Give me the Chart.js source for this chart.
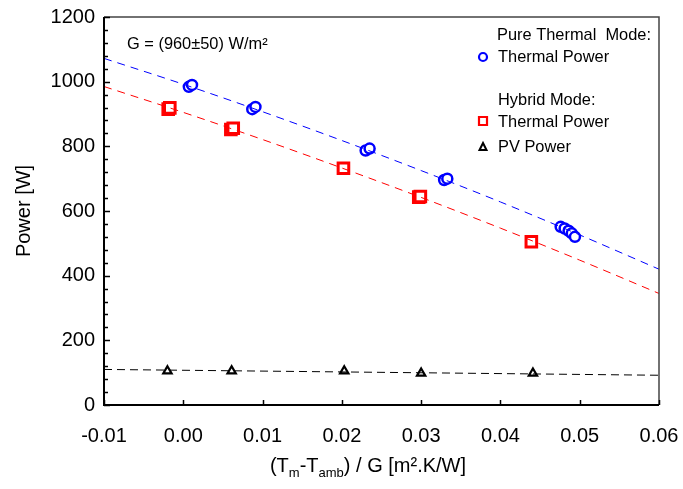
<!DOCTYPE html>
<html>
<head>
<meta charset="utf-8">
<script src="https://cdn.jsdelivr.net/npm/chart.js@4.4.1/dist/chart.umd.min.js"></script>
<style>
html,body{margin:0;padding:0;background:#fff;}
#wrap{width:683px;height:489px;position:relative;}
</style>
</head>
<body>
<div id="wrap"><canvas id="c" width="683" height="489"></canvas></div>
<script>
// ---- data ----
const pureThermalX = [0.0007, 0.0011, 0.0087, 0.0091, 0.0230, 0.0235, 0.0329, 0.0333, 0.0476, 0.0481, 0.0486, 0.0490, 0.0494];
const pureThermalY = [984, 990, 915, 922, 787, 793, 696, 700, 551, 546, 539, 531, 520];
const hybridThermalX = [-0.0019, -0.0017, 0.0060, 0.0063, 0.0202, 0.0297, 0.0299, 0.0439];
const hybridThermalY = [915, 919, 852, 856, 732, 643, 645, 505];
const pvX = [-0.0020, 0.0061, 0.0203, 0.0300, 0.0441];
const pvY = [105, 105, 105, 98, 98];
const fitX = [-0.01, 0.00, 0.01, 0.02, 0.03, 0.04, 0.05, 0.06];
const pureFitY = [1072, 992, 907, 818, 725, 628, 526, 420];
const hybridFitY = [985, 905, 821, 733, 642, 547, 448, 345];
const pvFitX = [-0.01, 0.06];
const pvFitY = [110, 92];
const xTicks = [-0.01, 0.00, 0.01, 0.02, 0.03, 0.04, 0.05, 0.06];
const yTicks = [0, 200, 400, 600, 800, 1000, 1200];

const FONT = "'Liberation Sans', Arial, sans-serif";
const pts = (xs, ys) => xs.map((x, i) => ({x: x, y: ys[i]}));

const frameAndTicks = {
  id: 'frameAndTicks',
  afterDatasetsDraw(chart) {
    const ctx = chart.ctx, a = chart.chartArea;
    const xs = chart.scales.x, ys = chart.scales.y;
    ctx.save();
    ctx.strokeStyle = '#444';
    ctx.lineWidth = 1.5;
    ctx.beginPath();
    ctx.moveTo(a.left, a.top); ctx.lineTo(a.right, a.top); ctx.lineTo(a.right, a.bottom);
    ctx.stroke();
    ctx.strokeStyle = '#000';
    ctx.lineWidth = 2;
    ctx.beginPath();
    ctx.moveTo(a.left, a.top); ctx.lineTo(a.left, a.bottom); ctx.lineTo(a.right, a.bottom);
    ctx.stroke();
    ctx.lineWidth = 1.5;
    ctx.beginPath();
    for (let v = 0; v <= 1200; v += 40) {
      const py = Math.round(ys.getPixelForValue(v)) + 0.5;
      const len = (v % 200 === 0) ? 6 : 4;
      ctx.moveTo(a.left, py); ctx.lineTo(a.left + len, py);
    }
    ctx.stroke();
    ctx.beginPath();
    xTicks.forEach(v => {
      const px = Math.round(xs.getPixelForValue(v)) + 0.5;
      ctx.moveTo(px, a.bottom); ctx.lineTo(px, a.bottom - 5);
    });
    ctx.stroke();
    ctx.restore();
  }
};

const annotations = {
  id: 'annotations',
  afterDraw(chart) {
    const ctx = chart.ctx;
    ctx.save();
    ctx.fillStyle = '#000';
    ctx.textBaseline = 'middle';
    ctx.textAlign = 'left';
    ctx.font = '16.4px ' + FONT;
    ctx.fillText('G = (960\u00B150) W/m\u00B2', 127, 44);
    ctx.fillText('Pure Thermal  Mode:', 497, 35);
    ctx.fillText('Thermal Power', 498, 57);
    ctx.fillText('Hybrid Mode:', 498, 100);
    ctx.fillText('Thermal Power', 498, 122);
    ctx.fillText('PV Power', 498, 147);
    ctx.lineWidth = 2.2;
    ctx.strokeStyle = '#0000FF';
    ctx.fillStyle = '#fff';
    ctx.beginPath(); ctx.arc(483, 57, 4, 0, Math.PI * 2); ctx.fill(); ctx.stroke();
    ctx.strokeStyle = '#FF0000';
    ctx.beginPath(); ctx.rect(479, 117, 8, 8); ctx.fill(); ctx.stroke();
    ctx.strokeStyle = '#000';
    ctx.lineWidth = 2;
    ctx.beginPath(); ctx.moveTo(483, 143); ctx.lineTo(486.5, 150); ctx.lineTo(479.5, 150); ctx.closePath(); ctx.fill(); ctx.stroke();
    const big = '20px ' + FONT, small = '13px ' + FONT;
    const parts = [['(T', big, 0], ['m', small, 5], ['-T', big, 0], ['amb', small, 5], [') / G [m\u00B2.K/W]', big, 0]];
    let total = 0;
    parts.forEach(p => { ctx.font = p[1]; total += ctx.measureText(p[0]).width; });
    let x = 368 - total / 2;
    const base = 472;
    ctx.fillStyle = '#000';
    ctx.textBaseline = 'alphabetic';
    parts.forEach(p => { ctx.font = p[1]; ctx.fillText(p[0], x, base + p[2]); x += ctx.measureText(p[0]).width; });
    ctx.restore();
  }
};

new Chart(document.getElementById('c'), {
  type: 'scatter',
  data: {
    datasets: [
      { label: 'Pure fit', data: pts(fitX, pureFitY), showLine: true, borderColor: '#0000FF', borderWidth: 1, borderDash: [8, 6], pointRadius: 0, tension: 0.4, cubicInterpolationMode: 'monotone', fill: false },
      { label: 'Hybrid fit', data: pts(fitX, hybridFitY), showLine: true, borderColor: '#FF0000', borderWidth: 1, borderDash: [8, 6], pointRadius: 0, tension: 0.4, cubicInterpolationMode: 'monotone', fill: false },
      { label: 'PV fit', data: pts(pvFitX, pvFitY), showLine: true, borderColor: '#000', borderWidth: 1, borderDash: [8, 5], pointRadius: 0, fill: false },
      { label: 'Pure Thermal Mode: Thermal Power', data: pts(pureThermalX, pureThermalY), pointStyle: 'circle', pointRadius: 5, borderWidth: 2.5, borderColor: '#0000FF', backgroundColor: '#fff' },
      { label: 'Hybrid Mode: Thermal Power', data: pts(hybridThermalX, hybridThermalY), pointStyle: 'rect', pointRadius: 7.5, borderWidth: 3, borderColor: '#FF0000', backgroundColor: '#fff' },
      { label: 'PV Power', data: pts(pvX, pvY), pointStyle: 'triangle', pointRadius: 4.8, borderWidth: 2.2, borderColor: '#000', backgroundColor: '#fff' }
    ]
  },
  options: {
    responsive: false,
    animation: false,
    layout: { padding: { left: 0, right: 24, top: 17, bottom: 0 } },
    plugins: { legend: { display: false }, tooltip: { enabled: false } },
    scales: {
      x: {
        type: 'linear', min: -0.01, max: 0.06,
        afterBuildTicks: s => { s.ticks = xTicks.map(v => ({value: v})); },
        afterFit: s => { s.height = 489 - 405; s.paddingLeft = 0; s.paddingRight = 0; },
        grid: { display: false, drawTicks: false },
        border: { display: false },
        ticks: { color: '#000', font: { family: FONT, size: 20 }, padding: 19, maxRotation: 0, callback: v => v.toFixed(2) }
      },
      y: {
        type: 'linear', min: 0, max: 1200,
        afterBuildTicks: s => { s.ticks = yTicks.map(v => ({value: v})); },
        afterFit: s => { s.width = 104; s.paddingTop = 0; s.paddingBottom = 0; },
        grid: { display: false, drawTicks: false },
        border: { display: false },
        ticks: { color: '#000', font: { family: FONT, size: 20 }, padding: 9, callback: v => String(v) },
        title: { display: true, text: 'Power [W]', color: '#000', font: { family: FONT, size: 20 }, padding: { top: 12, bottom: 0 } }
      }
    }
  },
  plugins: [frameAndTicks, annotations]
});
</script>
</body>
</html>
